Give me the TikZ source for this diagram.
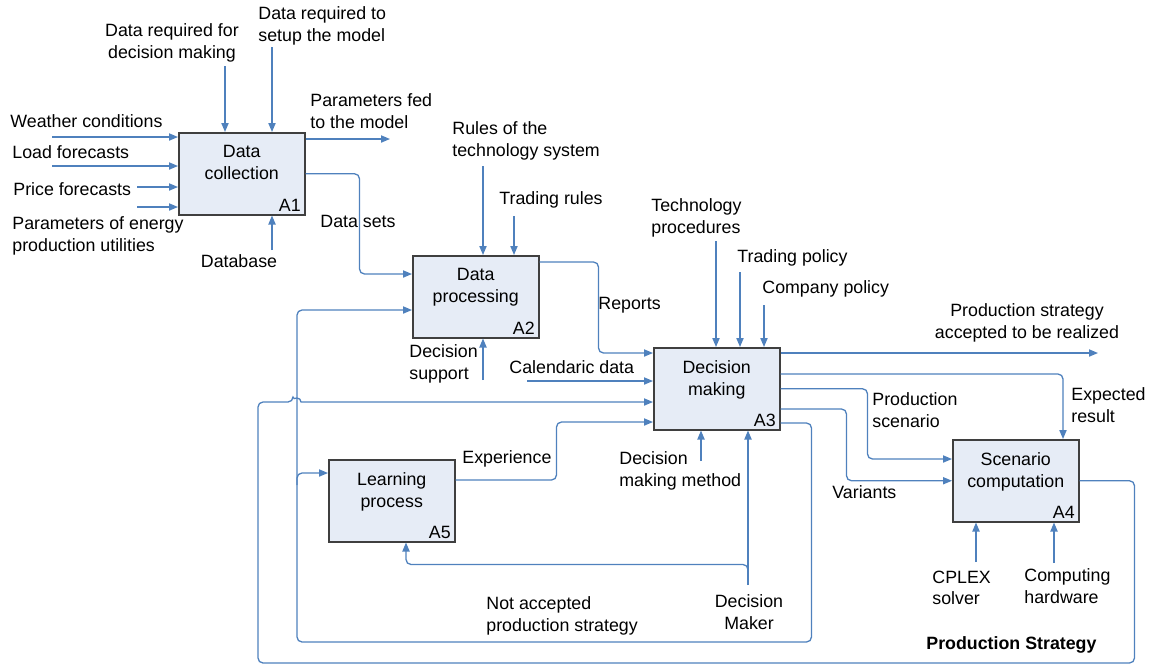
\documentclass[tikz,border=0pt]{standalone}
\usepackage{fontspec}
\setmainfont{Liberation Sans}
\usepackage{tikz}
\usetikzlibrary{arrows.meta,calc}
\definecolor{cFlow}{HTML}{4F81BD}
\definecolor{cBox} {HTML}{3F3F3F}
\definecolor{cFill}{HTML}{E6ECF6}
\tikzset{
  fn/.style   ={draw=cBox,fill=cFill,line width=0.75pt,anchor=north west,
                minimum width=63pt,minimum height=41pt,inner sep=0pt},
  ttl/.style  ={anchor=north,align=center,inner sep=0pt,yshift=-6.6pt},
  num/.style  ={anchor=south east,inner sep=0pt,xshift=-2.2pt,yshift=1.6pt},
  lbl/.style  ={anchor=west,align=left,inner sep=0pt},
  clbl/.style ={align=center,inner sep=0pt},
  sig/.style  ={-{Triangle[length=4.5pt,width=3.6pt]},draw=cFlow,line width=0.65pt},
  rc/.style   ={rounded corners=2.5pt},
}

\begin{document}
\begin{tikzpicture}[x=0.5pt,y=-0.5pt,font=\fontsize{8.9}{10.8}\selectfont]
\useasboundingbox (0,0) rectangle (1152,666);

% activities
\node[fn] (a1) at (178,132) {};
\node[ttl] (a1t) at (a1.north) {Data\\collection};
\node[num] (a1n) at (a1.south east) {A1};
\node[fn] (a2) at (412,255) {};
\node[ttl] (a2t) at (a2.north) {Data\\processing};
\node[num] (a2n) at (a2.south east) {A2};
\node[fn] (a3) at (653,347) {};
\node[ttl] (a3t) at (a3.north) {Decision\\making};
\node[num] (a3n) at (a3.south east) {A3};
\node[fn] (a4) at (952,439) {};
\node[ttl] (a4t) at (a4.north) {Scenario\\computation};
\node[num] (a4n) at (a4.south east) {A4};
\node[fn] (a5) at (328,459) {};
\node[ttl] (a5t) at (a5.north) {Learning\\process};
\node[num] (a5n) at (a5.south east) {A5};

% texts of the flows
\node[lbl]  (wthr)  at (10,121)   {Weather conditions};
\node[lbl]  (load)  at (12,152)   {Load forecasts};
\node[lbl]  (price) at (13,189)   {Price forecasts};
\node[lbl]  (param) at (12,236)   {Parameters of energy\\production utilities};
\node[clbl] (dreq)  at (172,43)   {Data required for\\decision making};
\node[lbl]  (dset)  at (258,26)   {Data required to\\setup the model};
\node[lbl]  (pfed)  at (310,111)  {Parameters fed\\to the model};
\node[lbl]  (dsets) at (320,221)  {Data sets};
\node[clbl] (dbase) at (239,261)  {Database};
\node[lbl]  (rules) at (452,141)  {Rules of the\\technology system};
\node[lbl]  (trul)  at (499,200)  {Trading rules};
\node[lbl]  (dsup)  at (409,364)  {Decision\\support};
\node[lbl]  (rep)   at (598,305)  {Reports};
\node[lbl]  (tproc) at (651,218)  {Technology\\procedures};
\node[lbl]  (tpol)  at (737,258)  {Trading policy};
\node[lbl]  (cpol)  at (762,289)  {Company policy};
\node[lbl]  (cal)   at (509,367)  {Calendaric data};
\node[clbl] (psacc) at (1027,323) {Production strategy\\accepted to be realized};
\node[lbl]  (expr)  at (1071,405) {Expected\\result};
\node[lbl]  (pscn)  at (872,410)  {Production\\scenario};
\node[lbl]  (var)   at (832,492)  {Variants};
\node[lbl]  (expc)  at (462,459)  {Experience};
\node[lbl]  (dmm)   at (619,471)  {Decision\\making method};
\node[clbl] (dmkr)  at (749,612)  {Decision\\Maker};
\node[lbl]  (nacc)  at (486,616)  {Not accepted\\production strategy};
\node[lbl]  (cplex) at (932,588)  {CPLEX\\solver};
\node[lbl]  (hw)    at (1024,586) {Computing\\hardware};
\node[lbl,font=\fontsize{8.9}{10.8}\selectfont\bfseries] (pstr) at (926,645) {Production Strategy};

% free ends
\coordinate (wthrIn)  at (52,137);
\coordinate (loadIn)  at (52,166);
\coordinate (priceIn) at (137,187);
\coordinate (paramIn) at (137,207);
\coordinate (dreqIn)  at (225,66);
\coordinate (dsetIn)  at (272,47);
\coordinate (dbaseIn) at (272,250);
\coordinate (pfedOut) at (390,139);
\coordinate (rulesIn) at (483,166);
\coordinate (trulIn)  at (514,216);
\coordinate (dsupIn)  at (483,380);
\coordinate (calIn)   at (527,381);
\coordinate (tprocIn) at (716,241);
\coordinate (tpolIn)  at (740,272);
\coordinate (cpolIn)  at (764,305);
\coordinate (dmmIn)   at (701,461);
\coordinate (dmkrIn)  at (748,585);
\coordinate (psaccOut) at (1098,353);
\coordinate (cplexIn) at (976,562);
\coordinate (hwIn)    at (1054,563);
\coordinate (naCrn)   at (297,642);
\coordinate (psCrn)   at (258,663);

% A1
\draw[sig] (wthrIn) -- (wthrIn -| a1.west);
\draw[sig] (loadIn) -- (loadIn -| a1.west);
\draw[sig] (priceIn) -- (priceIn -| a1.west);
\draw[sig] (paramIn) -- (paramIn -| a1.west);
\draw[sig] (dreqIn) -- (dreqIn |- a1.north);
\draw[sig] (dsetIn) -- (dsetIn |- a1.north);
\draw[sig] (dbaseIn) -- (dbaseIn |- a1.south);
\draw[sig] (pfedOut -| a1.east) -- (pfedOut);
\draw[sig,rc] (a1.east) -- ++(54,0) |- ($(a2.north west)+(0,19)$);

% A2
\draw[sig] (rulesIn) -- (rulesIn |- a2.north);
\draw[sig] (trulIn) -- (trulIn |- a2.north);
\draw[sig] (dsupIn) -- (dsupIn |- a2.south);
\draw[sig,rc] ($(a2.north east)+(0,7)$) -- ++(59,0) |- ($(a3.north west)+(0,6)$);

% A3
\draw[sig] (calIn) -- (calIn -| a3.west);
\draw[sig] (tprocIn) -- (tprocIn |- a3.north);
\draw[sig] (tpolIn) -- (tpolIn |- a3.north);
\draw[sig] (cpolIn) -- (cpolIn |- a3.north);
\draw[sig] (dmmIn) -- (dmmIn |- a3.south);
\draw[sig] (dmkrIn) -- (dmkrIn |- a3.south);
\draw[sig,rc] ($(dmkrIn)+(0,-10)$) |- ($(a5.south west)+(78,22)$) -- ($(a5.south west)+(78,0)$);
\draw[sig] (psaccOut -| a3.east) -- (psaccOut);
\draw[sig,rc] ($(a3.north east)+(0,27)$) -| ($(a4.north west)+(111,0)$);
\draw[sig,rc] (a3.east) -- ++(87,0) |- ($(a4.north west)+(0,20)$);
\draw[sig,rc] ($(a3.north east)+(0,62)$) -- ++(66,0) |- (a4.west);

% not accepted strategy goes back
\draw[sig,rc] ($(a3.north east)+(0,76)$) -- ++(31,0) |- (naCrn) |- ($(a2.north west)+(0,55)$);
\draw[sig,rc] ($(naCrn)+(0,-157)$) |- ($(a5.north west)+(0,14)$);
\draw[sig,rc] ($(a5.north east)+(0,21)$) -- ++(101,0) |- ($(a3.north west)+(0,75)$);

% A4
\draw[sig] (cplexIn) -- (cplexIn |- a4.south);
\draw[sig] (hwIn) -- (hwIn |- a4.south);
\draw[sig,rc] (a4.east) -- ++(55,0) |- (psCrn) |- ($(a3.north west)+(-360,55)$)
  [sharp corners] arc[start angle=180,end angle=360,radius=4] -- ($(a3.north west)+(0,55)$);
\end{tikzpicture}
\end{document}
